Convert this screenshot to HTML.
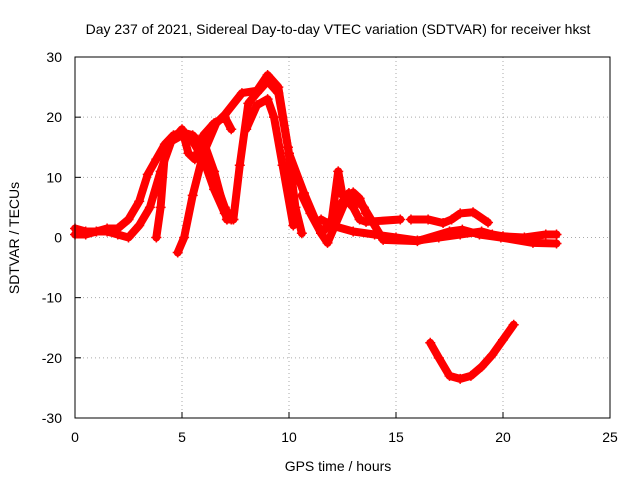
<!DOCTYPE html>
<html><head><meta charset="utf-8"><style>
body{margin:0;background:#fff}
svg{font-family:"Liberation Sans",sans-serif}
</style></head><body>
<svg id="chart" width="640" height="480">
<text x="338" y="34" font-size="14" text-anchor="middle">Day 237 of 2021, Sidereal Day-to-day VTEC variation (SDTVAR) for receiver hkst</text>
<text x="338" y="471" font-size="14" text-anchor="middle">GPS time / hours</text>
<text x="19" y="238" font-size="14" text-anchor="middle" transform="rotate(-90 19 238)">SDTVAR / TECUs</text>
<g id="grid"></g><g id="series"></g>
<rect x="75" y="57" width="535" height="361" fill="none" stroke="#000"/>
</svg>
<script>
const xTicks=[0,5,10,15,20,25];
const yTicks=[-30,-20,-10,0,10,20,30];
const t1x=[0,0.5,1,1.5,2,2.5,3,3.4,3.8,4.2,4.6,5,5.5,6,6.5,7,7.3];
const t1y=[1.5,1,1,1.5,1.5,3,6,10.5,13,15.5,17,17.5,17,15,10,5,3];
const t2x=[0,0.5,1,1.5,2,2.5,3,3.5,4,4.5,5,5.5,6,6.5,7];
const t2y=[0.5,0.5,1,1,0.5,0,2,5,11,16,17,16,13,8,4];
const t3x=[3.8,4.0,4.2,4.5,5,5.3,5.6,6,6.5,7,7.3];
const t3y=[0,5,14,16,18,14,13,17,19,20,18];
const t4x=[4.8,5.1,5.5,6,6.6,7,7.8,8.5,9,9.5,9.95,10.3,10.6];
const t4y=[-2.5,0,7,14,19,20.4,24,24.4,27,25,15,5,0.7];
const t5x=[7.1,7.4,7.7,8.1,8.5,9,9.5,10,10.7,11.5,11.8,12.8,13.5,14.4,16,17.5,18.1,18.9,19.9,21.4,22.5];
const t5y=[3,3,12,22.3,24,26,24,14,7.4,0.7,-0.9,7.4,5,-0.4,-0.6,1,1.3,0.5,0,-0.9,-1];
const t6x=[6,6.5,7.1,7.4];
const t6y=[16,11,3,3];
const t7x=[10.6,11,11.5,12,12.3,12.5,13,13.3,13.6,15.2];
const t7y=[7,4,0.7,3,11,7,5,3,2.6,3];
const t8x=[15.7,16.5,17.2,17.6,18,18.6,19.3];
const t8y=[3,3,2.4,3,4,4.2,2.5];
const t9x=[11.5,12,13,14,15,16,17,18,19,19.5,20,21,22,22.5];
const t9y=[3,2,1,0.5,0,-0.5,0,0.5,1,0.5,0.2,0,0.5,0.5];
const t10x=[16.6,17,17.5,18,18.5,19,19.5,20,20.5];
const t10y=[-17.5,-20,-23,-23.5,-23,-21.5,-19.5,-17,-14.5];
const t11x=[8,8.5,9,9.3,9.7,10.2];
const t11y=[18,22,23,20,12,2];
const t12x=[11.6,12,12.5,13,13.3,13.6];
const t12y=[1,3,6,7.5,6.5,4];
const traces=[[t1x,t1y],[t2x,t2y],[t3x,t3y],[t4x,t4y],[t5x,t5y],[t6x,t6y],[t7x,t7y],[t8x,t8y],[t9x,t9y],[t10x,t10y],[t11x,t11y],[t12x,t12y]];
const X=v=>75+v*535/25, Y=v=>418-(v+30)*361/60;
const NS='http://www.w3.org/2000/svg';
const grid=document.getElementById('grid'), ser=document.getElementById('series');
function mk(tag,at,p){const e=document.createElementNS(NS,tag);for(const k in at)e.setAttribute(k,at[k]);p.appendChild(e);return e;}
xTicks.forEach(t=>{
 if(t>0&&t<25){const g=mk('line',{x1:X(t),x2:X(t),y1:57,y2:418,stroke:'#aaa','stroke-dasharray':'1,3'},grid);
 
 }
 const tk=mk('line',{x1:X(t),x2:X(t),y1:418,y2:412,stroke:'#000'},grid);
 
 
 const l=mk('text',{x:X(t),y:442,'font-size':14,'text-anchor':'middle'},grid);l.textContent=t;
 
 
});
yTicks.forEach(t=>{
 if(t>-30&&t<30){const g=mk('line',{x1:75,x2:610,y1:Y(t),y2:Y(t),stroke:'#aaa','stroke-dasharray':'1,3'},grid);
 
 }
 const tk=mk('line',{x1:75,x2:81,y1:Y(t),y2:Y(t),stroke:'#000'},grid);
 
 
 const l=mk('text',{x:62,y:Y(t)+5,'font-size':14,'text-anchor':'end'},grid);l.textContent=t;
 
 
});
traces.forEach(([xs,ys],i)=>{
 const pts=xs.map((x,j)=>X(x)+','+Y(ys[j])).join(' ');
 const pl=mk('polyline',{points:pts,fill:'none',stroke:'#f00','stroke-width':8,'stroke-linejoin':'round','stroke-linecap':'round'},ser);
 
 
 xs.forEach((x,j)=>{
  const m=mk('path',{d:`M${X(x)-5},${Y(ys[j])}h10M${X(x)},${Y(ys[j])-5}v10`,stroke:'#f00','stroke-width':1.5},ser);
  
  
 });
});
</script>
</body></html>
